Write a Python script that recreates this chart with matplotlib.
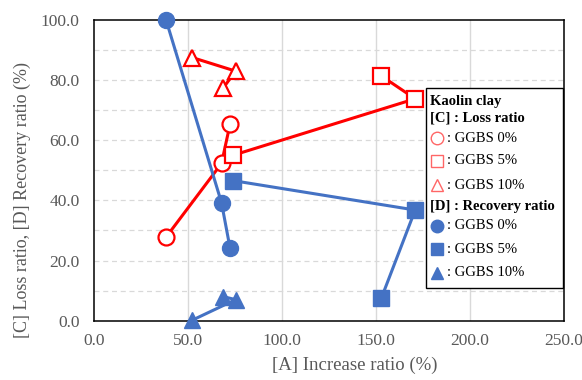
import matplotlib.pyplot as plt
from matplotlib.lines import Line2D
from matplotlib.patches import Rectangle

# Increase ratio [A] (%) for each GGBS content
x_ggbs0 = [38.5, 68.0, 72.5]
x_ggbs5 = [74.0, 171.0, 153.0]
x_ggbs10 = [52.5, 75.5, 69.0]

# [C] Loss ratio (%)
loss_ggbs0 = [27.8, 52.3, 65.3]
loss_ggbs5 = [55.0, 73.8, 81.4]
loss_ggbs10 = [87.5, 83.0, 77.5]

# [D] Recovery ratio (%)
rec_ggbs0 = [100.0, 39.2, 24.2]
rec_ggbs5 = [46.6, 36.8, 7.5]
rec_ggbs10 = [0.2, 7.0, 8.0]

x_ticks = [0, 50, 100, 150, 200, 250]
y_ticks = [0, 20, 40, 60, 80, 100]

RED = '#FF0000'
BLUE = '#4472C4'
GRAY = '#595959'

plt.rcParams['font.family'] = ['Liberation Serif', 'DejaVu Serif']

W, H = 582, 380
fig = plt.figure(figsize=(W / 100, H / 100), dpi=100)
ax = fig.add_axes([93.7 / W, 1 - 320.7 / H, 470 / W, 300.7 / H])

# grid
for gx in x_ticks[1:-1]:
    ax.axvline(gx, color='#D9D9D9', lw=1.0, zorder=0)
for gy in range(10, 100, 10):
    ax.axhline(gy, color='#D9D9D9', lw=0.9, ls=(0, (4, 3)), zorder=0)

series = [
    (x_ggbs0, loss_ggbs0, 'o', False),
    (x_ggbs5, loss_ggbs5, 's', False),
    (x_ggbs10, loss_ggbs10, '^', False),
    (x_ggbs0, rec_ggbs0, 'o', True),
    (x_ggbs5, rec_ggbs5, 's', True),
    (x_ggbs10, rec_ggbs10, '^', True),
]
msize = {'o': 11.5, 's': 11.5, '^': 12}
for xs, ys, mk, filled in series:
    if filled:
        ax.plot(xs, ys, color=BLUE, lw=2.2, marker=mk, ms=msize[mk],
                mfc=BLUE, mec=BLUE, clip_on=False, zorder=3)
    else:
        ax.plot(xs, ys, color=RED, lw=2.2, marker=mk, ms=msize[mk],
                mfc='white', mec=RED, mew=1.6, clip_on=False, zorder=3)

ax.set_xlim(0, 250)
ax.set_ylim(0, 100)
ax.set_xticks(x_ticks)
ax.set_yticks(y_ticks)
ax.set_xticklabels([f'{v:.1f}' for v in x_ticks])
ax.set_yticklabels([f'{v:.1f}' for v in y_ticks])
ax.tick_params(length=0, labelsize=12.5, labelcolor=GRAY)
ax.tick_params(axis='x', pad=9)
ax.tick_params(axis='y', pad=10)
for s in ax.spines.values():
    s.set_color('black')
    s.set_linewidth(1.1)

ax.set_xlabel('[A] Increase ratio (%)', fontsize=13.5, color=GRAY)
ax.xaxis.label.set_va('center')
ax.xaxis.set_label_coords((354.5 - 93.7) / 470, (320.7 - 365) / 300.7)
ax.set_ylabel('[C] Loss ratio, [D] Recovery ratio (%)', fontsize=13,
              color=GRAY)
ax.yaxis.label.set_va('center')
ax.yaxis.set_label_coords((22 - 93.7) / 470, (320.7 - 200) / 300.7)

# legend drawn by hand in pixel positions
def fx(px):
    return px / W

def fy(py):
    return 1 - py / H

fig.add_artist(Rectangle((fx(426), fy(288.3)), fx(563.3) - fx(426),
                         fy(88.3) - fy(288.3), transform=fig.transFigure,
                         facecolor='white', edgecolor='black', lw=1.0,
                         zorder=5))

headers = [('Kaolin clay', 101.7), ('[C] : Loss ratio', 118.3),
           ('[D] : Recovery ratio', 206.7)]
for txt, py in headers:
    fig.text(fx(429.5), fy(py), txt, fontsize=10.5, fontweight='bold',
             va='center', ha='left', zorder=6)

entries = [
    ('o', False, ': GGBS 0%', 138.3),
    ('s', False, ': GGBS 5%', 161.0),
    ('^', False, ': GGBS 10%', 185.0),
    ('o', True, ': GGBS 0%', 226.0),
    ('s', True, ': GGBS 5%', 249.3),
    ('^', True, ': GGBS 10%', 272.7),
]
for mk, filled, txt, py in entries:
    if filled:
        m = Line2D([fx(436.7)], [fy(py)], marker=mk, ms=9, color=BLUE,
                   mfc=BLUE, mec=BLUE, ls='none', transform=fig.transFigure,
                   zorder=6)
    else:
        m = Line2D([fx(436.7)], [fy(py)], marker=mk, ms=9, color=RED,
                   mfc='white', mec='#FF6666', mew=1.0, ls='none',
                   transform=fig.transFigure, zorder=6)
    fig.add_artist(m)
    fig.text(fx(446.5), fy(py), txt, fontsize=10.5, va='center', ha='left',
             zorder=6)

fig.savefig('out.png', dpi=100)
